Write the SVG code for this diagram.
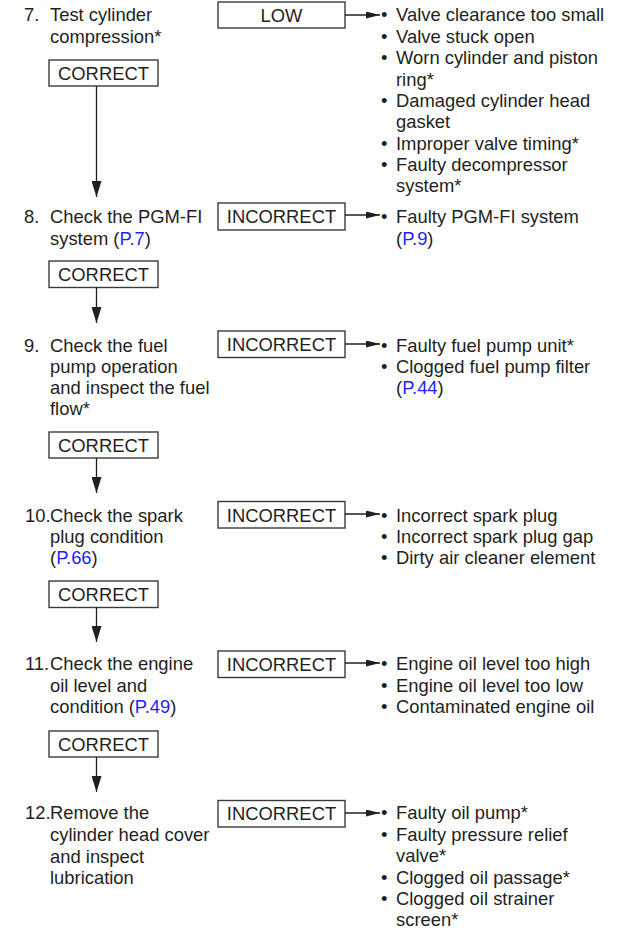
<svg xmlns="http://www.w3.org/2000/svg" width="629" height="931" viewBox="0 0 629 931">
  <style>
    text { font-family: "Liberation Sans", Arial, sans-serif; font-size: 18.4px; fill: #231f20; }
    .c { text-anchor: middle; }
    .lnk { fill: #1f1fff; }
    .box { fill: none; stroke: #3a3a3a; stroke-width: 1.4; }
    .con { fill: none; stroke: #231f20; stroke-width: 1.3; }
  </style>
  <defs>
    <marker id="arrV" markerUnits="userSpaceOnUse" viewBox="0 0 16 10" refX="16" refY="5" markerWidth="16" markerHeight="10" orient="auto">
      <path d="M0,0 L16,5 L0,10 Z" fill="#231f20"/>
    </marker>
    <marker id="arrH" markerUnits="userSpaceOnUse" viewBox="0 0 14 7" refX="14" refY="3.5" markerWidth="14" markerHeight="7" orient="auto">
      <path d="M0,0 L14,3.5 L0,7 Z" fill="#231f20"/>
    </marker>
  </defs>

  <!-- Steps -->
  <g id="step7">
    <text x="24" y="21">7.</text>
    <text x="50" y="21">Test cylinder</text>
    <text x="50" y="42.5">compression*</text>
  </g>
  <g id="step8">
    <text x="24" y="223">8.</text>
    <text x="50" y="223">Check the PGM-FI</text>
    <text x="50" y="245">system (<tspan class="lnk">P.7</tspan>)</text>
  </g>
  <g id="step9">
    <text x="24" y="352">9.</text>
    <text x="50" y="352">Check the fuel</text>
    <text x="50" y="373">pump operation</text>
    <text x="50" y="394">and inspect the fuel</text>
    <text x="50" y="415">flow*</text>
  </g>
  <g id="step10">
    <text x="25" y="521.5">10.</text>
    <text x="50" y="521.5">Check the spark</text>
    <text x="50" y="543">plug condition</text>
    <text x="50" y="564">(<tspan class="lnk">P.66</tspan>)</text>
  </g>
  <g id="step11">
    <text x="25" y="670">11.</text>
    <text x="50" y="670">Check the engine</text>
    <text x="50" y="691.5">oil level and</text>
    <text x="50" y="713">condition (<tspan class="lnk">P.49</tspan>)</text>
  </g>
  <g id="step12">
    <text x="25" y="819">12.</text>
    <text x="50" y="819">Remove the</text>
    <text x="50" y="841">cylinder head cover</text>
    <text x="50" y="862.5">and inspect</text>
    <text x="50" y="884">lubrication</text>
  </g>

  <!-- CORRECT boxes -->
  <g id="correct7"><rect class="box" x="49" y="60" width="109" height="26"/><text class="c" x="103.5" y="79.5">CORRECT</text></g>
  <g id="correct8"><rect class="box" x="49" y="261" width="109" height="26.5"/><text class="c" x="103.5" y="280.5">CORRECT</text></g>
  <g id="correct9"><rect class="box" x="49" y="432" width="109" height="26"/><text class="c" x="103.5" y="451.5">CORRECT</text></g>
  <g id="correct10"><rect class="box" x="49" y="581" width="109" height="26.5"/><text class="c" x="103.5" y="600.5">CORRECT</text></g>
  <g id="correct11"><rect class="box" x="49" y="731" width="109" height="26"/><text class="c" x="103.5" y="750.5">CORRECT</text></g>

  <!-- LOW / INCORRECT boxes -->
  <g id="low7"><rect class="box" x="218" y="2" width="127" height="26"/><text class="c" x="281.5" y="21.5">LOW</text></g>
  <g id="incorrect8"><rect class="box" x="218" y="203" width="127" height="27"/><text class="c" x="281.5" y="223">INCORRECT</text></g>
  <g id="incorrect9"><rect class="box" x="218" y="331" width="127" height="26.5"/><text class="c" x="281.5" y="351">INCORRECT</text></g>
  <g id="incorrect10"><rect class="box" x="218" y="501.5" width="127" height="26.5"/><text class="c" x="281.5" y="521.5">INCORRECT</text></g>
  <g id="incorrect11"><rect class="box" x="218" y="651" width="127" height="26.5"/><text class="c" x="281.5" y="670.5">INCORRECT</text></g>
  <g id="incorrect12"><rect class="box" x="218" y="800.5" width="127" height="26.5"/><text class="c" x="281.5" y="820">INCORRECT</text></g>

  <!-- Cause lists -->
  <g id="causes7">
    <text x="381" y="21">•</text><text x="396" y="21">Valve clearance too small</text>
    <text x="381" y="42.5">•</text><text x="396" y="42.5">Valve stuck open</text>
    <text x="381" y="64">•</text><text x="396" y="64">Worn cylinder and piston</text>
    <text x="396" y="85.5">ring*</text>
    <text x="381" y="107">•</text><text x="396" y="107">Damaged cylinder head</text>
    <text x="396" y="128">gasket</text>
    <text x="381" y="149.5">•</text><text x="396" y="149.5">Improper valve timing*</text>
    <text x="381" y="171">•</text><text x="396" y="171">Faulty decompressor</text>
    <text x="396" y="192">system*</text>
  </g>
  <g id="causes8">
    <text x="381" y="223">•</text><text x="396" y="223">Faulty PGM-FI system</text>
    <text x="396" y="245">(<tspan class="lnk">P.9</tspan>)</text>
  </g>
  <g id="causes9">
    <text x="381" y="352">•</text><text x="396" y="352">Faulty fuel pump unit*</text>
    <text x="381" y="373">•</text><text x="396" y="373">Clogged fuel pump filter</text>
    <text x="396" y="394">(<tspan class="lnk">P.44</tspan>)</text>
  </g>
  <g id="causes10">
    <text x="381" y="521.5">•</text><text x="396" y="521.5">Incorrect spark plug</text>
    <text x="381" y="543">•</text><text x="396" y="543">Incorrect spark plug gap</text>
    <text x="381" y="564">•</text><text x="396" y="564">Dirty air cleaner element</text>
  </g>
  <g id="causes11">
    <text x="381" y="670">•</text><text x="396" y="670">Engine oil level too high</text>
    <text x="381" y="691.5">•</text><text x="396" y="691.5">Engine oil level too low</text>
    <text x="381" y="713">•</text><text x="396" y="713">Contaminated engine oil</text>
  </g>
  <g id="causes12">
    <text x="381" y="819">•</text><text x="396" y="819">Faulty oil pump*</text>
    <text x="381" y="840.5">•</text><text x="396" y="840.5">Faulty pressure relief</text>
    <text x="396" y="862">valve*</text>
    <text x="381" y="883.5">•</text><text x="396" y="883.5">Clogged oil passage*</text>
    <text x="381" y="905">•</text><text x="396" y="905">Clogged oil strainer</text>
    <text x="396" y="926">screen*</text>
  </g>

  <!-- Connectors -->
  <g id="connectors">
    <line class="con" x1="96.5" y1="86" x2="96.5" y2="197" marker-end="url(#arrV)"/>
    <line class="con" x1="96.5" y1="287.5" x2="96.5" y2="323" marker-end="url(#arrV)"/>
    <line class="con" x1="96.5" y1="458" x2="96.5" y2="493" marker-end="url(#arrV)"/>
    <line class="con" x1="96.5" y1="607.5" x2="96.5" y2="642" marker-end="url(#arrV)"/>
    <line class="con" x1="96.5" y1="757" x2="96.5" y2="792" marker-end="url(#arrV)"/>

    <line class="con" x1="345" y1="15" x2="380" y2="15" marker-end="url(#arrH)"/>
    <line class="con" x1="345" y1="215" x2="380" y2="215" marker-end="url(#arrH)"/>
    <line class="con" x1="345" y1="344" x2="380" y2="344" marker-end="url(#arrH)"/>
    <line class="con" x1="345" y1="514" x2="380" y2="514" marker-end="url(#arrH)"/>
    <line class="con" x1="345" y1="663" x2="380" y2="663" marker-end="url(#arrH)"/>
    <line class="con" x1="345" y1="813" x2="380" y2="813" marker-end="url(#arrH)"/>
  </g>
</svg>
